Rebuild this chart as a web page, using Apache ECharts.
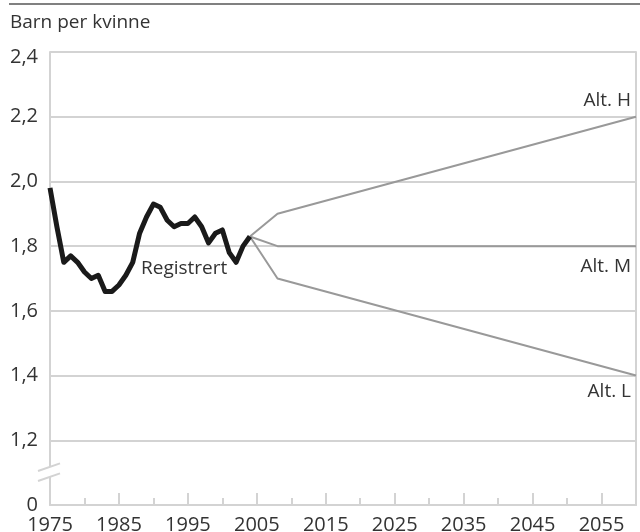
<!DOCTYPE html>
<html><head><meta charset="utf-8">
<script src="https://cdn.jsdelivr.net/npm/echarts@6/dist/echarts.min.js"></script>
<style>html,body{margin:0;padding:0;background:#fff}#c{width:640px;height:532px}</style>
</head><body><div id="c"></div>
<script>
// ---- data ----
const years = [1975,1976,1977,1978,1979,1980,1981,1982,1983,1984,1985,1986,1987,1988,1989,1990,1991,1992,1993,1994,1995,1996,1997,1998,1999,2000,2001,2002,2003,2004];
const registrert = [1.98,1.86,1.75,1.77,1.75,1.72,1.70,1.71,1.66,1.66,1.68,1.71,1.75,1.84,1.89,1.93,1.92,1.88,1.86,1.87,1.87,1.89,1.86,1.81,1.84,1.85,1.78,1.75,1.80,1.83];
const projYears = [2004, 2008, 2060];
const altH = [1.83, 1.90, 2.20];
const altM = [1.83, 1.80, 1.80];
const altL = [1.83, 1.70, 1.40];
const xLabelYears = [1975,1985,1995,2005,2015,2025,2035,2045,2055];
const xMinorYears = [1980,1990,2000,2010,2020,2030,2040,2050,2060];
const yTicks = [1.0,1.2,1.4,1.6,1.8,2.0,2.2,2.4];
const yTickLabels = ['0','1,2','1,4','1,6','1,8','2,0','2,2','2,4'];
const seriesNames = ['Registrert','Alt. H','Alt. M','Alt. L'];
const yTitle = 'Barn per kvinne';

const FONT = 'Open Sans';
const TXT = '#333333';
const GRIDC = '#d3d3d3';
const PROJC = '#999999';

function pairs(xs, ys){ return xs.map((x,i)=>[x, ys[i]]); }

const chart = echarts.init(document.getElementById('c'), null, {renderer:'canvas'});
const option = {
  animation: false,
  backgroundColor: '#ffffff',
  grid: {left: 50, right: 4, top: 52, bottom: 27, containLabel: false, outerBoundsMode: 'none'},
  xAxis: [{
    type: 'value', position: 'bottom', min: 1975, max: 2060, interval: 5,
    axisLine: {show: true, lineStyle: {color: GRIDC, width: 2}},
    axisTick: {show: true, inside: true, length: 12, customValues: xLabelYears, lineStyle: {color: GRIDC, width: 2}},
    axisLabel: {show: true, customValues: xLabelYears, margin: 10, color: TXT, fontFamily: FONT, fontSize: 20, formatter: v => String(v)},
    splitLine: {show: false}
  },{
    type: 'value', position: 'bottom', min: 1975, max: 2060, interval: 5, offset: 0,
    axisLine: {show: false},
    axisTick: {show: true, inside: true, length: 7, customValues: xMinorYears, lineStyle: {color: GRIDC, width: 2}},
    axisLabel: {show: false},
    splitLine: {show: false}
  }],
  yAxis: [{
    type: 'value', position: 'left', min: 1.0, max: 2.4, interval: 0.2,
    axisLine: {show: true, lineStyle: {color: GRIDC, width: 2}},
    axisTick: {show: false},
    axisLabel: {show: true, margin: 12, color: TXT, fontFamily: FONT, fontSize: 20, showMinLabel: true, showMaxLabel: true,
      rich: {top: {fontFamily: FONT, fontSize: 20, color: TXT, padding: [10, 0, 0, 0]}},
      formatter: v => {
        const i = yTicks.findIndex(t => Math.abs(t - v) < 1e-6);
        if (i < 0) return '';
        return i === yTicks.length - 1 ? '{top|' + yTickLabels[i] + '}' : yTickLabels[i];
      }},
    splitLine: {show: true, lineStyle: {color: GRIDC, width: 2}}
  },{
    type: 'value', position: 'right', min: 1.0, max: 2.4, interval: 0.2,
    axisLine: {show: true, lineStyle: {color: GRIDC, width: 2}},
    axisTick: {show: false}, axisLabel: {show: false}, splitLine: {show: false}
  }],
  series: [
    {name: seriesNames[1], type: 'line', data: pairs(projYears, altH), showSymbol: false, symbol: 'none', z: 3,
     lineStyle: {color: PROJC, width: 2}},
    {name: seriesNames[2], type: 'line', data: pairs(projYears, altM), showSymbol: false, symbol: 'none', z: 3,
     lineStyle: {color: PROJC, width: 2}},
    {name: seriesNames[3], type: 'line', data: pairs(projYears, altL), showSymbol: false, symbol: 'none', z: 3,
     lineStyle: {color: PROJC, width: 2}},
    {name: seriesNames[0], type: 'line', data: pairs(years, registrert), showSymbol: false, symbol: 'none', z: 4,
     lineStyle: {color: '#1a1a1a', width: 5, join: 'round', cap: 'butt'}}
  ]
};
chart.setOption(option);

function px(x, y){ return chart.convertToPixel({xAxisIndex: 0, yAxisIndex: 0}, [x, y]); }
function txt(text, x, y, align){
  return {type: 'text', x: x, y: y, z: 100,
    style: {text: text, fontFamily: FONT, fontSize: 19, fill: TXT,
      align: align, textAlign: align, verticalAlign: 'middle', textVerticalAlign: 'middle'}};
}
const pH = px(projYears[2], altH[2]);
const pM = px(projYears[2], altM[2]);
const pL = px(projYears[2], altL[2]);
const pR = px(1988.2, 1.732);
const b = px(1975, 1.1);

chart.setOption({
  graphic: [
    {type: 'line', z: 100, shape: {x1: 9, y1: 4, x2: 640, y2: 4}, style: {stroke: '#808080', lineWidth: 2}},
    txt(yTitle, 10, 23, 'left'),
    txt(seriesNames[0], pR[0], pR[1], 'left'),
    txt(seriesNames[1], pH[0] - 5, pH[1] - 16, 'right'),
    txt(seriesNames[2], pM[0] - 5, pM[1] + 20, 'right'),
    txt(seriesNames[3], pL[0] - 5, pL[1] + 16, 'right'),
    {type: 'polygon', z: 100, shape: {points: [[b[0]-12, b[1]-1.6],[b[0]+10, b[1]-9.3],[b[0]+10, b[1]+0.7],[b[0]-12, b[1]+8.4]]},
     style: {fill: '#ffffff'}},
    {type: 'line', z: 101, shape: {x1: b[0]-12, y1: b[1]-1.6, x2: b[0]+10, y2: b[1]-9.3}, style: {stroke: GRIDC, lineWidth: 2}},
    {type: 'line', z: 101, shape: {x1: b[0]-12, y1: b[1]+8.4, x2: b[0]+10, y2: b[1]+0.7}, style: {stroke: GRIDC, lineWidth: 2}}
  ]
});
</script>
</body></html>
